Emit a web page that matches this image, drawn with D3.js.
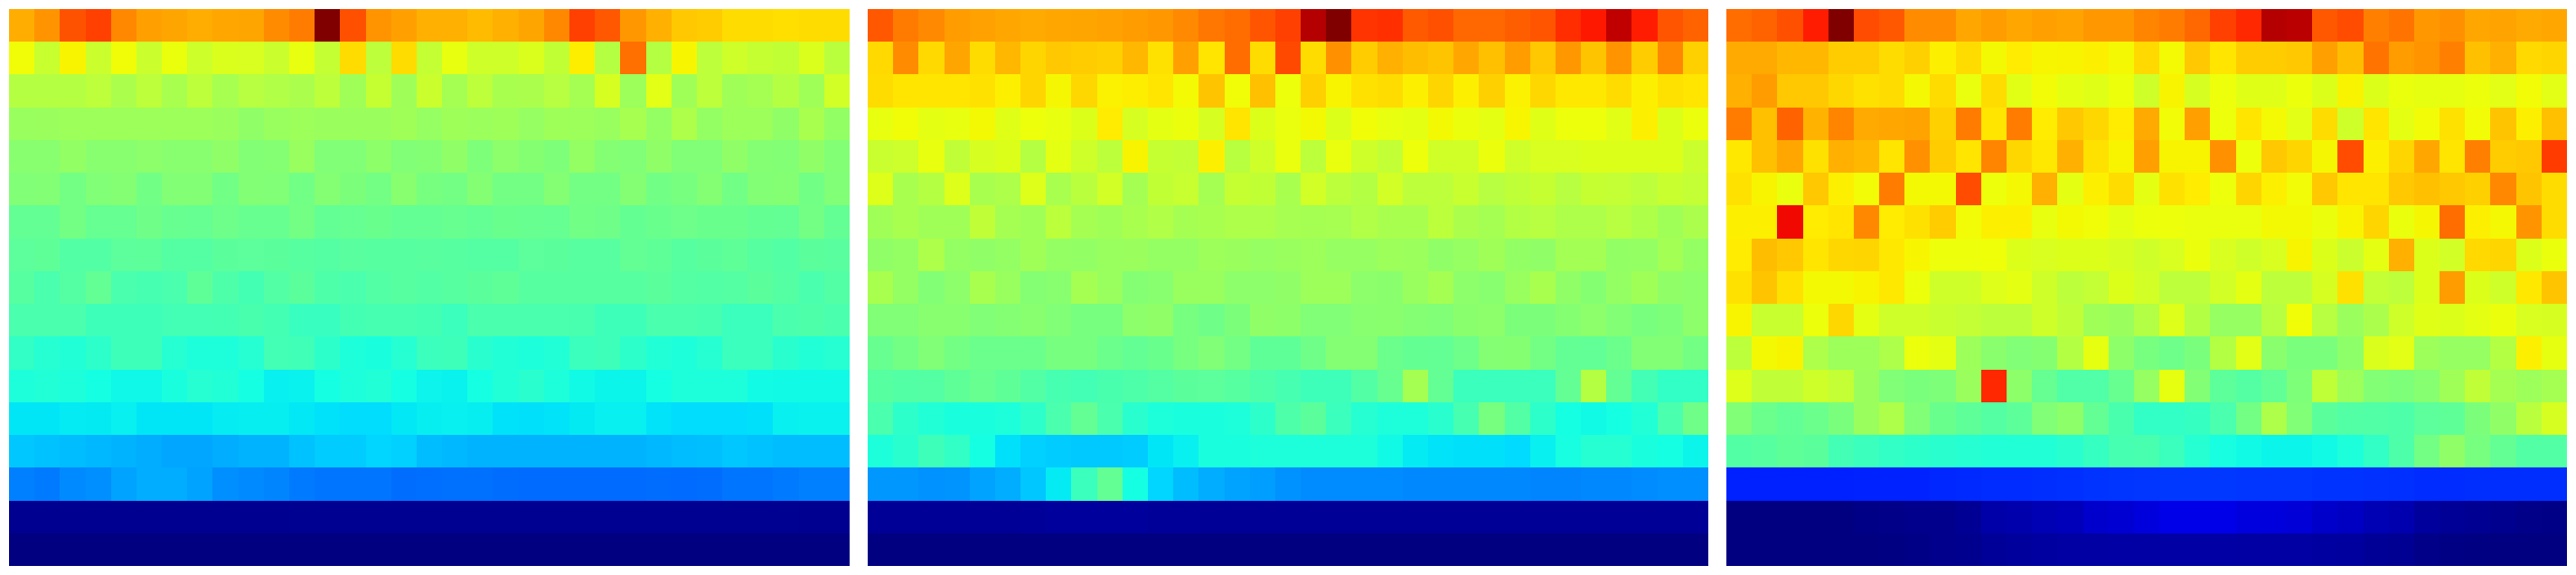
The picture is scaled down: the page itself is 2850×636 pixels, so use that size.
<!DOCTYPE html>
<html>
<head>
<meta charset="utf-8">
<script src="https://cdn.jsdelivr.net/npm/d3@7/dist/d3.min.js"></script>
<style>html,body{margin:0;padding:0;background:#fff}svg{display:block}</style>
</head>
<body>
<div id="chart"></div>
<script>
// Values are in thousandths of the colour-scale range (0 = bottom, 1000 = top of the jet scale).
const panelA = [
[727,753,823,842,766,741,735,727,733,735,762,779,1000,825,753,741,724,724,712,724,735,766,842,817,749,724,698,694,677,677,674,677,677],
[642,593,652,595,642,595,635,599,616,612,595,632,588,677,580,677,588,632,600,600,615,585,658,570,791,570,650,580,600,590,585,615,575],
[570,570,570,580,558,580,555,580,553,572,565,558,580,545,590,543,595,550,580,555,558,572,550,610,540,625,545,580,545,550,570,545,605],
[535,537,540,540,540,540,540,540,537,525,535,540,537,537,537,545,532,542,538,542,532,542,540,535,553,530,560,530,540,540,525,555,528],
[515,515,528,515,515,520,515,515,525,508,510,535,505,505,522,505,510,525,503,520,512,503,530,510,505,525,505,505,525,510,508,525,508],
[505,508,490,505,510,488,508,508,487,508,505,488,510,500,490,515,495,490,510,490,490,510,490,490,510,488,495,510,487,508,510,487,505],
[470,470,490,473,473,485,475,473,483,475,475,490,470,473,478,470,470,475,470,478,475,473,488,485,472,478,482,478,478,472,470,490,470],
[462,465,450,450,462,463,452,452,460,462,460,455,452,458,455,455,458,455,452,452,462,460,456,456,470,465,455,460,465,455,450,460,458],
[455,440,452,470,440,435,440,465,445,432,450,460,445,440,450,455,450,455,460,465,455,455,455,455,455,460,452,450,452,460,452,440,450],
[440,440,440,425,425,425,430,430,432,438,432,418,418,432,435,435,432,420,440,440,440,440,437,425,425,440,440,435,420,420,440,445,440],
[410,395,390,405,425,425,395,385,385,395,430,428,405,385,380,395,422,425,400,390,385,390,420,425,405,390,385,395,420,420,400,390,395],
[385,390,385,375,368,368,380,395,390,375,360,362,375,385,390,375,364,362,375,390,400,385,370,365,365,375,385,385,385,372,370,370,370],
[350,350,355,354,360,350,350,350,356,358,358,352,347,342,342,352,358,360,358,347,345,348,354,360,360,348,342,342,342,345,360,362,362],
[320,315,310,305,300,295,288,288,295,300,300,315,325,325,335,330,310,305,300,300,300,300,300,300,300,305,310,312,320,315,310,310,310],
[250,245,260,265,285,295,295,285,265,260,255,245,240,240,240,232,234,235,235,232,230,230,230,230,230,232,230,232,240,240,245,250,250],
[14,14,14,14,14,14,14,14,14,14,14,15,15,15,15,15,15,15,15,15,15,15,15,15,15,15,15,15,15,15,15,14,14],
[0,0,0,0,0,0,0,0,0,0,0,0,0,0,0,0,0,0,0,0,0,0,0,0,0,0,0,0,0,0,0,0,0]
];
const panelB = [
[817,780,765,745,740,733,730,733,735,740,745,750,765,785,795,820,842,955,1000,855,860,815,825,800,800,810,820,862,885,945,880,820,805],
[680,762,680,735,677,716,685,698,694,690,716,672,741,668,796,677,833,677,757,694,724,710,702,733,707,745,698,749,702,753,694,766,690],
[677,668,668,668,672,657,685,648,682,654,658,668,645,702,642,707,638,690,652,672,677,656,685,656,690,654,682,664,664,677,656,672,668],
[632,642,628,632,646,622,638,632,618,660,610,628,636,610,668,618,633,646,618,642,632,628,646,636,628,650,622,638,638,624,656,618,636],
[594,598,632,583,610,618,570,628,600,578,652,590,586,656,573,600,634,578,634,600,586,638,603,603,636,600,612,612,618,618,618,618,595],
[620,555,570,620,555,560,620,555,575,605,550,585,592,550,590,585,555,605,578,568,605,580,580,593,572,582,590,572,590,587,580,593,587],
[545,555,545,545,583,550,545,578,550,545,555,565,550,555,560,560,552,550,552,565,555,555,578,558,550,568,572,560,560,572,562,545,558],
[525,530,560,530,525,530,545,530,527,535,537,530,530,540,537,532,536,540,532,532,540,538,525,532,545,528,525,548,548,527,530,548,530],
[555,530,508,520,555,535,510,515,550,535,510,515,535,535,520,520,525,540,540,520,517,535,550,520,515,535,555,525,512,530,545,525,520],
[505,505,515,515,505,510,515,505,495,495,520,525,495,485,500,525,522,505,505,515,518,510,505,518,520,500,500,512,520,508,497,503,520],
[475,490,505,490,480,480,480,495,495,480,470,478,495,505,490,465,466,485,510,510,480,472,470,482,510,512,490,470,468,480,508,508,490],
[455,450,452,465,475,465,450,435,430,438,445,452,460,462,455,445,435,425,425,450,475,550,470,420,420,420,420,470,570,470,430,410,410],
[440,405,390,380,380,385,405,440,470,440,400,385,380,380,385,405,445,460,420,395,385,385,400,435,495,450,405,375,370,375,390,440,485],
[385,400,425,410,375,345,330,325,322,322,325,350,360,380,380,385,385,385,385,385,370,355,348,345,345,340,360,378,395,395,380,375,365],
[274,274,268,270,285,295,320,355,420,470,375,335,310,295,285,280,268,262,262,262,262,258,258,258,258,258,255,255,258,258,262,265,265],
[20,20,20,20,20,20,22,24,24,24,24,22,22,20,20,20,20,20,20,20,20,20,20,20,20,20,20,20,20,20,20,20,20],
[0,0,0,0,0,0,0,0,0,0,0,0,0,0,0,0,0,0,0,0,0,0,0,0,0,0,0,0,0,0,0,0,0]
];
const panelC = [
[796,805,825,880,1000,830,817,762,762,733,745,733,741,737,749,749,770,779,800,842,868,955,950,817,830,775,787,749,757,733,737,730,733],
[730,730,716,716,694,694,677,690,656,677,646,660,651,652,656,647,680,645,698,668,694,694,698,741,710,787,745,753,775,707,724,680,685],
[724,745,698,698,682,672,677,647,677,634,677,624,643,628,622,637,600,652,610,638,622,622,637,618,652,618,635,630,630,637,625,643,625],
[779,707,805,720,770,730,733,737,690,779,668,779,660,698,682,660,730,643,741,638,668,645,625,677,600,668,628,643,672,643,702,656,707],
[664,707,733,672,724,716,668,757,694,668,770,682,664,724,672,652,741,652,652,757,638,698,685,648,830,656,685,733,668,775,694,698,848],
[672,652,634,698,656,643,779,646,646,830,638,647,724,628,656,677,628,672,660,638,685,656,643,698,668,668,698,707,698,690,766,702,677],
[656,656,902,660,668,766,660,672,694,643,656,656,632,646,642,628,637,638,633,633,633,646,646,636,652,685,635,648,796,656,647,753,677],
[660,710,698,668,682,685,664,650,638,638,640,618,612,618,618,610,600,612,636,612,600,612,652,618,595,628,724,618,605,680,685,618,635],
[672,702,672,646,646,652,664,637,600,600,620,628,600,578,587,618,605,580,580,605,628,580,580,610,672,587,580,618,745,618,600,664,702],
[652,593,593,637,682,628,600,600,593,587,578,578,600,583,545,537,566,620,567,532,532,572,642,572,537,558,600,622,618,628,636,612,610],
[578,646,652,560,540,540,560,637,628,540,517,505,512,567,630,522,495,483,498,567,625,517,498,498,522,615,625,540,532,532,567,656,630],
[620,583,583,600,587,537,505,498,503,537,868,522,473,447,447,475,532,630,508,463,452,468,503,582,540,508,503,513,545,583,550,540,550],
[505,480,468,480,498,537,560,505,478,464,452,463,505,522,470,438,410,410,415,440,490,560,505,460,450,448,445,462,465,500,525,575,610],
[450,455,465,460,430,420,410,405,400,395,390,390,390,400,415,435,437,420,395,378,370,365,365,370,385,410,445,490,525,495,470,450,450],
[157,157,157,157,157,158,158,158,163,165,168,168,170,172,175,176,178,180,180,180,178,178,178,175,175,173,172,168,168,170,170,170,170],
[0,0,0,0,0,5,8,11,11,18,35,38,45,50,66,72,80,90,90,90,82,80,75,65,58,45,40,25,20,16,12,8,6],
[0,0,0,0,0,0,3,6,10,12,22,25,28,30,30,32,32,32,32,32,30,30,30,28,26,20,16,8,4,2,0,0,0]
];

const panels = [panelA, panelB, panelC];
const panelIds = ["A", "B", "C"];

const W = 2850, H = 636;
const panelX = d3.scaleBand().domain(panelIds).range([10, 2840]).paddingInner(20 / 950).paddingOuter(0);
const rowY = d3.scaleBand().domain(d3.range(panelA.length)).range([10, 626]);

// Matplotlib "jet": one piecewise linear scale per colour channel
const jetR = d3.scaleLinear().domain([0, 350, 660, 890, 1000]).range([0, 0, 255, 255, 128]);
const jetG = d3.scaleLinear().domain([0, 125, 375, 640, 910, 1000]).range([0, 0, 255, 255, 0, 0]);
const jetB = d3.scaleLinear().domain([0, 110, 340, 650, 1000]).range([128, 255, 255, 0, 0]);
const jet = v => d3.rgb(jetR(v), jetG(v), jetB(v)).formatHex();

const svg = d3.select("#chart").append("svg").attr("width", W).attr("height", H);
svg.append("rect").attr("width", W).attr("height", H).attr("fill", "#fff");

panels.forEach((rows, pi) => {
  const left = panelX(panelIds[pi]);
  const colX = d3.scaleBand().domain(d3.range(rows[0].length)).range([left, left + panelX.bandwidth()]);
  const g = svg.append("g").attr("shape-rendering", "crispEdges");
  rows.forEach((row, ri) => {
    g.selectAll(null).data(row).join("rect")
      .attr("x", (d, i) => Math.round(colX(i)))
      .attr("y", Math.round(rowY(ri)))
      .attr("width", (d, i) => Math.round(colX(i) + colX.bandwidth()) - Math.round(colX(i)))
      .attr("height", Math.round(rowY(ri) + rowY.bandwidth()) - Math.round(rowY(ri)))
      .attr("fill", d => jet(d));
  });
});
</script>
</body>
</html>
